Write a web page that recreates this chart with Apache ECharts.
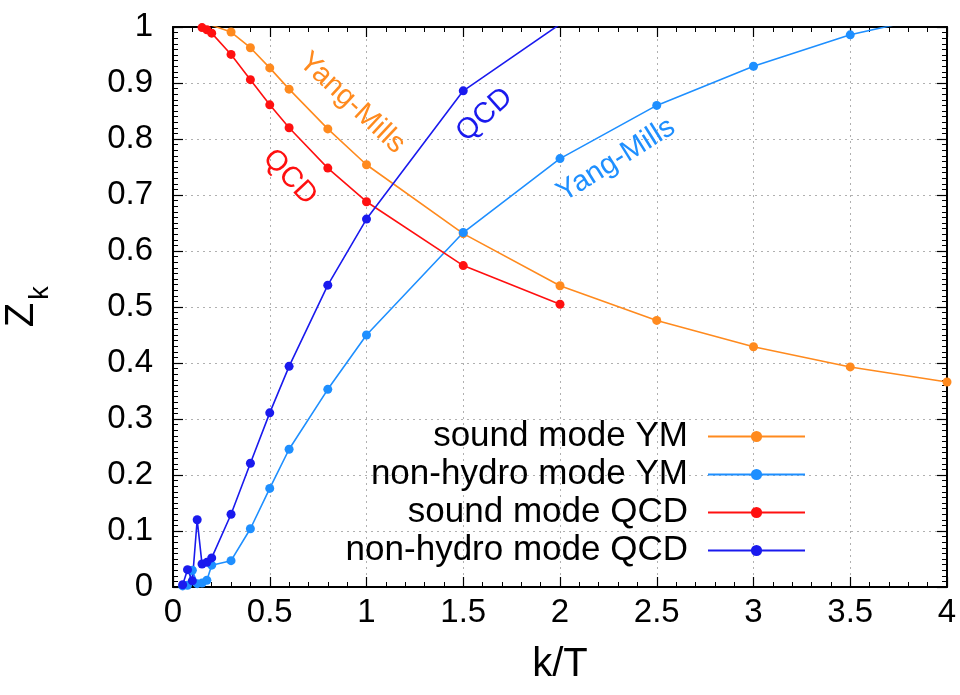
<!DOCTYPE html>
<html>
<head>
<meta charset="utf-8">
<script src="https://cdn.jsdelivr.net/npm/echarts@6/dist/echarts.min.js"></script>
<style>html,body{margin:0;padding:0;background:#fff}#c{width:960px;height:695px}</style>
</head>
<body>
<div id="c"></div>
<script>
// ---- data ----
const xSoundYM = [0.1, 0.2, 0.3, 0.4, 0.5, 0.6, 0.8, 1.0, 1.5, 2.0, 2.5, 3.0, 3.5, 4.0];
const soundYM  = [1.02, 1.003, 0.991, 0.963, 0.927, 0.889, 0.818, 0.754, 0.631, 0.538, 0.476, 0.429, 0.393, 0.366];

const xNonHydroYM = [0.05, 0.075, 0.1, 0.125, 0.15, 0.175, 0.2, 0.3, 0.4, 0.5, 0.6, 0.8, 1.0, 1.5, 2.0, 2.5, 3.0, 3.5, 4.0];
const nonHydroYM  = [0.002, 0.003, 0.03, 0.006, 0.007, 0.012, 0.039, 0.047, 0.104, 0.176, 0.246, 0.353, 0.45, 0.633, 0.765, 0.86, 0.93, 0.986, 1.025];

const xSoundQCD = [0.1, 0.125, 0.15, 0.175, 0.2, 0.3, 0.4, 0.5, 0.6, 0.8, 1.0, 1.5, 2.0];
const soundQCD  = [1.01, 1.003, 0.999, 0.995, 0.989, 0.951, 0.906, 0.861, 0.82, 0.748, 0.688, 0.574, 0.505];

const xNonHydroQCD = [0.05, 0.075, 0.1, 0.125, 0.15, 0.175, 0.2, 0.3, 0.4, 0.5, 0.6, 0.8, 1.0, 1.5, 2.0];
const nonHydroQCD  = [0.004, 0.031, 0.011, 0.12, 0.041, 0.044, 0.052, 0.13, 0.221, 0.311, 0.394, 0.539, 0.657, 0.886, 1.005];

const seriesNames = ['sound mode YM', 'non-hydro mode YM', 'sound mode QCD', 'non-hydro mode QCD'];
const seriesColors = ['#ff8a1e', '#1e8fff', '#ff1010', '#1a1aee'];

// annotation labels (text, data position, angle in degrees)
const annotations = [
  {text: 'Yang-Mills', x: 0.925, y: 0.864, angle: -43, color: seriesColors[0]},
  {text: 'QCD',        x: 0.604, y: 0.732, angle: -47, color: seriesColors[2]},
  {text: 'QCD',        x: 1.61,  y: 0.843, angle: 42,  color: seriesColors[3]},
  {text: 'Yang-Mills', x: 2.29,  y: 0.7625, angle: 32, color: seriesColors[1]}
];

const FONT = 'Liberation Sans, Arial, Helvetica, sans-serif';
const zip = (xs, ys) => xs.map((x, i) => [x, ys[i]]);

const chart = echarts.init(document.getElementById('c'), null, {renderer: 'canvas'});

const gridLine = {show: true, lineStyle: {color: '#b0b0b0', type: [2, 4], width: 1}};
const baseAxisLine = {show: true, onZero: false, lineStyle: {color: '#000', width: 2}};

const mkSeries = (name, xs, ys, color) => ({
  name, type: 'line', data: zip(xs, ys), clip: true,
  symbol: 'circle', symbolSize: 9, showSymbol: true,
  itemStyle: {color}, lineStyle: {color, width: 1.6},
  emphasis: {disabled: true}, animation: false
});

chart.setOption({
  animation: false,
  backgroundColor: '#fff',
  grid: {left: 173, right: 13, top: 27, bottom: 108, containLabel: false},
  xAxis: [
    {type: 'value', min: 0, max: 4, interval: 0.5, position: 'bottom',
     axisLine: baseAxisLine,
     axisTick: {show: true, inside: true, length: 10, lineStyle: {color: '#000', width: 1.2}},
     minorTick: {show: true, splitNumber: 5, length: 5, lineStyle: {color: '#000', width: 1}},
     splitLine: gridLine,
     axisLabel: {fontSize: 33, color: '#000', fontFamily: FONT, margin: 9},
     name: 'k/T', nameLocation: 'middle', nameGap: 58,
     nameTextStyle: {fontSize: 40, color: '#000', fontFamily: FONT}},
    {type: 'value', min: 0, max: 4, interval: 0.5, position: 'top',
     axisLine: baseAxisLine,
     axisTick: {show: true, inside: true, length: 10, lineStyle: {color: '#000', width: 1.2}},
     minorTick: {show: true, splitNumber: 5, length: 5, lineStyle: {color: '#000', width: 1}},
     splitLine: {show: false}, axisLabel: {show: false}}
  ],
  yAxis: [
    {type: 'value', min: 0, max: 1, interval: 0.1, position: 'left',
     axisLine: baseAxisLine,
     axisTick: {show: true, inside: true, length: 10, lineStyle: {color: '#000', width: 1.2}},
     minorTick: {show: true, splitNumber: 10, length: 5, lineStyle: {color: '#000', width: 1}},
     splitLine: gridLine,
     axisLabel: {fontSize: 33, color: '#000', fontFamily: FONT, margin: 20,
       formatter: v => String(Math.round(v * 10) / 10)}},
    {type: 'value', min: 0, max: 1, interval: 0.1, position: 'right',
     axisLine: baseAxisLine,
     axisTick: {show: true, inside: true, length: 10, lineStyle: {color: '#000', width: 1.2}},
     minorTick: {show: true, splitNumber: 10, length: 5, lineStyle: {color: '#000', width: 1}},
     splitLine: {show: false}, axisLabel: {show: false}}
  ],
  legend: {
    orient: 'vertical', right: 149, top: 414, align: 'right',
    itemWidth: 97, itemHeight: 14, itemGap: 3,
    selectedMode: false,
    textStyle: {fontSize: 35, color: '#000', fontFamily: FONT, lineHeight: 30, padding: [0, 15, 0, 0]},
    data: seriesNames
  },
  series: [
    mkSeries(seriesNames[0], xSoundYM, soundYM, seriesColors[0]),
    mkSeries(seriesNames[1], xNonHydroYM, nonHydroYM, seriesColors[1]),
    mkSeries(seriesNames[2], xSoundQCD, soundQCD, seriesColors[2]),
    mkSeries(seriesNames[3], xNonHydroQCD, nonHydroQCD, seriesColors[3])
  ]
});

const graphics = annotations.map(a => {
  const p = chart.convertToPixel({xAxisIndex: 0, yAxisIndex: 0}, [a.x, a.y]);
  return {type: 'text', x: p[0], y: p[1], rotation: a.angle * Math.PI / 180,
    style: {text: a.text, fill: a.color, fontSize: 29, fontFamily: FONT, align: 'center', verticalAlign: 'middle'}};
});
graphics.push({
  type: 'group', x: 28, y: 308, rotation: Math.PI / 2,
  children: [
    {type: 'text', x: -7, y: -6, style: {text: 'Z', fontSize: 40, fontFamily: FONT, fill: '#000', align: 'center', verticalAlign: 'middle'}},
    {type: 'text', x: 15, y: 13, style: {text: 'k', fontSize: 27, fontFamily: FONT, fill: '#000', align: 'center', verticalAlign: 'middle'}}
  ]
});
chart.setOption({graphic: graphics});
</script>
</body>
</html>
